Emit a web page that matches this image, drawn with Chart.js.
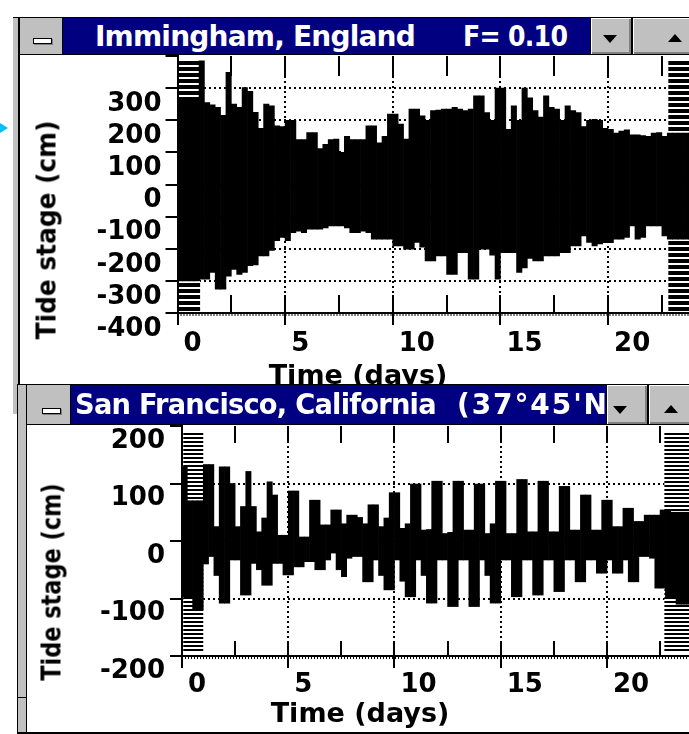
<!DOCTYPE html>
<html><head><meta charset="utf-8">
<script src="https://cdn.jsdelivr.net/npm/chart.js@4.4.1/dist/chart.umd.min.js"></script>
<style>
html,body{margin:0;padding:0;background:#fff;}
body{width:689px;height:734px;overflow:hidden;position:relative;}
.a{position:absolute;}
.k{background:#000;}
.g{background:#c0c0c0;}
.blue{background:#000080;overflow:hidden;}
.tt{position:absolute;color:#fff;font-family:'DejaVu Sans',sans-serif;font-weight:bold;font-size:28px;letter-spacing:-0.8px;white-space:nowrap;line-height:28px;transform-origin:0 50%;}
.btn{background:#c0c0c0;box-shadow:inset 1px 1px #fff,inset -2px -2px #808080;}
.sys{background:#fff;border:1px solid #000;box-shadow:1px 1px #808080;box-sizing:border-box;}
.td{width:0;height:0;border-left:7px solid transparent;border-right:7px solid transparent;border-top:8px solid #000;}
.tu{width:0;height:0;border-left:7px solid transparent;border-right:7px solid transparent;border-bottom:8px solid #000;}
.axt{position:absolute;font-family:'DejaVu Sans',sans-serif;font-weight:bold;font-size:27px;line-height:27px;color:#000;white-space:nowrap;}
</style></head>
<body>
<!-- cyan pointer -->
<div class="a" style="left:0;top:123px;width:0;height:0;border-left:8px solid #00c0ff;border-top:5px solid transparent;border-bottom:5px solid transparent;"></div>

<!-- Window 1 -->
<div class="a g" style="left:13px;top:17px;width:5px;height:397px;"></div>
<div class="a k" style="left:18px;top:17px;width:2px;height:397px;"></div>
<div class="a k" style="left:13px;top:17px;width:676px;height:1px;"></div>
<div class="a g" style="left:20px;top:18px;width:42px;height:36px;"></div>
<div class="a sys" style="left:33px;top:38px;width:19px;height:6px;"></div>
<div class="a k" style="left:62px;top:18px;width:1px;height:36px;"></div>
<div class="a blue" style="left:63px;top:18px;width:527px;height:36px;">
  <span class="tt" style="left:32px;top:5px;">Immingham, England</span>
  <span class="tt" style="left:400px;top:5px;transform:scaleX(0.9);">F= 0.10</span>
</div>
<div class="a k" style="left:590px;top:18px;width:1px;height:36px;"></div>
<div class="a btn" style="left:591px;top:18px;width:40px;height:36px;"></div>
<div class="a td" style="left:603px;top:35px;"></div>
<div class="a k" style="left:631px;top:18px;width:2px;height:36px;"></div>
<div class="a btn" style="left:633px;top:18px;width:80px;height:36px;"></div>
<div class="a tu" style="left:668px;top:34px;"></div>
<div class="a k" style="left:20px;top:54px;width:669px;height:1px;"></div>
<canvas id="c1" class="a" width="669" height="329" style="left:20px;top:55px;"></canvas>
<div class="axt" style="left:46px;top:230px;transform:translate(-50%,-50%) rotate(-90deg) scaleX(0.92);">Tide stage (cm)</div>
<div class="axt" style="left:358px;top:361px;transform:translateX(-50%);">Time (days)</div>

<!-- Window 2 -->
<div style="position:absolute;left:0;top:0;width:689px;height:734px;z-index:2;pointer-events:none;">
<div class="a k" style="left:17px;top:384px;width:672px;height:1px;"></div>
<div class="a k" style="left:17px;top:384px;width:1px;height:350px;"></div>
<div class="a g" style="left:18px;top:385px;width:8px;height:347px;"></div>
<div class="a k" style="left:26px;top:385px;width:1px;height:347px;"></div>
<div class="a k" style="left:17px;top:697px;width:10px;height:1px;"></div>
<div class="a g" style="left:27px;top:385px;width:43px;height:39px;"></div>
<div class="a sys" style="left:42px;top:408px;width:19px;height:6px;"></div>
<div class="a k" style="left:70px;top:385px;width:1px;height:39px;"></div>
<div class="a blue" style="left:71px;top:385px;width:535px;height:39px;">
  <span class="tt" style="left:4px;top:6px;transform:scaleX(0.975);">San Francisco, California</span>
  <span class="tt" style="left:386px;top:6px;letter-spacing:1.9px;">(37°45'N)</span>
</div>
<div class="a k" style="left:606px;top:385px;width:1px;height:39px;"></div>
<div class="a btn" style="left:607px;top:385px;width:40px;height:39px;"></div>
<div class="a td" style="left:613px;top:406px;"></div>
<div class="a k" style="left:647px;top:385px;width:2px;height:39px;"></div>
<div class="a btn" style="left:649px;top:385px;width:60px;height:39px;"></div>
<div class="a tu" style="left:664px;top:405px;"></div>
<div class="a k" style="left:27px;top:424px;width:662px;height:1px;"></div>
<div class="a" style="left:27px;top:425px;width:662px;height:307px;background:#fff;"></div>
<div class="a k" style="left:17px;top:732px;width:672px;height:2px;"></div>
</div>
<canvas id="c2" class="a" width="662" height="307" style="left:27px;top:425px;z-index:3;"></canvas>
<div class="axt" style="z-index:3;left:51px;top:582px;transform:translate(-50%,-50%) rotate(-90deg) scaleX(0.83);">Tide stage (cm)</div>
<div class="axt" style="z-index:3;left:360px;top:699px;transform:translateX(-50%);">Time (days)</div>

<script>
// ---- time bins (centre of each quarter-day bin, days) ----
const DAYS = Array.from({length: 96}, (_, i) => 0.125 + 0.25 * i);

// ---- Immingham, England: highest / lowest stage within each bin (cm) ----
const IMMINGHAM_HIGH = [
  265,265,265,265,385,255,248,240,215,349,
  250,240,302,290,225,175,250,245,183,180,
  200,200,140,140,162,162,112,125,140,141,
  100,150,140,140,140,183,183,130,150,219,
  219,188,141,235,235,214,200,230,232,235,
  235,240,235,230,235,276,276,224,200,300,
  300,172,245,200,300,270,230,210,276,240,
  235,200,245,230,224,180,200,203,200,175,
  172,160,166,170,155,155,152,150,160,162,
  150,160,160,160,160,160];
const IMMINGHAM_LOW = [
  -300,-300,-300,-300,-295,-295,-274,-326,-326,-285,
  -264,-280,-274,-253,-250,-222,-222,-205,-175,-165,
  -175,-150,-145,-150,-139,-139,-139,-135,-129,-129,
  -129,-135,-150,-150,-145,-150,-170,-170,-170,-170,
  -191,-191,-201,-201,-180,-195,-238,-238,-222,-222,
  -280,-280,-212,-212,-295,-295,-201,-201,-220,-295,
  -212,-212,-212,-274,-260,-230,-238,-238,-222,-222,
  -222,-212,-212,-191,-191,-160,-180,-191,-185,-181,
  -181,-170,-170,-165,-129,-170,-165,-129,-129,-129,
  -160,-170,-170,-170,-170,-170];

// ---- San Francisco, California ----
const SF_HIGH = [
  129,70,70,70,133,133,25,129,129,100,
  25,60,121,60,16,40,103,80,10,10,
  87,87,7,7,71,71,28,28,54,54,
  30,45,45,41,30,63,63,25,40,84,
  84,22,30,99,99,19,20,104,104,13,
  15,104,104,19,19,99,99,13,30,104,
  104,13,13,107,107,16,16,104,104,16,
  16,95,95,19,19,80,80,19,19,71,
  71,25,25,57,57,34,34,45,45,45,
  54,54,50,50,50,50];
const SF_LOW = [
  -97,-100,-120,-120,-40,-27,-60,-108,-108,-33,
  -33,-94,-94,-39,-50,-77,-77,-39,-39,-59,
  -59,-45,-45,-36,-36,-50,-50,-33,-21,-50,
  -62,-30,-27,-27,-71,-71,-33,-60,-85,-85,
  -33,-70,-97,-97,-33,-60,-108,-108,-33,-33,
  -114,-114,-33,-33,-114,-114,-33,-60,-108,-108,
  -33,-33,-97,-97,-33,-33,-94,-94,-33,-33,
  -88,-88,-33,-33,-71,-71,-33,-33,-56,-56,
  -33,-56,-56,-33,-71,-71,-27,-27,-30,-82,
  -82,-97,-97,-110,-110,-110];

// ---- tick labels ----
const X_TICK_LABELS = [0, 5, 10, 15, 20];
const IMMINGHAM_Y_LABELS = [300, 200, 100, 0, -100, -200, -300, -400];
const SF_Y_LABELS = [200, 100, 0, -100, -200];

// ---- dense-trace (hatched) edge zones: [start day, end day] and stage span ----
const IMMINGHAM_HATCH_DAYS = [[0, 1.05], [22.8, 24]];
const IMMINGHAM_HATCH_RANGE = [-395, 388];
const SF_HATCH_DAYS = [[0.06, 1.0], [22.7, 24]];
const SF_HATCH_RANGE = [-194, 190];

function linePattern(on, off) {
  const c = document.createElement('canvas');
  c.width = 8; c.height = on + off;
  const g = c.getContext('2d');
  g.fillStyle = '#fff'; g.fillRect(0, 0, 8, on + off);
  g.fillStyle = '#000'; g.fillRect(0, 0, 8, on);
  return g.createPattern(c, 'repeat');
}

function makeDecor(cfg) {
  return {
    id: 'decor',
    beforeDatasetsDraw(chart) {
      const {ctx, chartArea: a, scales: {x, y}} = chart;
      ctx.save();
      ctx.beginPath(); ctx.rect(a.left, a.top, a.right - a.left, a.bottom - a.top); ctx.clip();
      ctx.fillStyle = cfg.pattern;
      cfg.hatchDays.forEach(([d0, d1]) => {
        const x0 = x.getPixelForValue(d0), x1 = x.getPixelForValue(d1);
        const y0 = y.getPixelForValue(cfg.hatchRange[1]), y1 = y.getPixelForValue(cfg.hatchRange[0]);
        ctx.fillRect(x0, y0, x1 - x0, y1 - y0);
      });
      ctx.restore();
    },
    afterDatasetsDraw(chart) {
      const {ctx, chartArea: a, scales: {x}} = chart;
      ctx.save();
      ctx.strokeStyle = '#000'; ctx.lineWidth = 2;
      x.ticks.forEach(t => {
        if (t.value <= 0) return;
        const px = Math.round(x.getPixelForValue(t.value));
        ctx.beginPath();
        ctx.moveTo(px, a.top); ctx.lineTo(px, a.top + cfg.innerTop);
        ctx.moveTo(px, a.bottom - cfg.innerBottom); ctx.lineTo(px, a.bottom);
        ctx.stroke();
      });
      ctx.setLineDash([1, 2]);
      ctx.beginPath(); ctx.moveTo(a.left, a.bottom + 2); ctx.lineTo(a.right, a.bottom + 2); ctx.stroke();
      ctx.restore();
    }
  };
}

const TICK_FONT = {family: "'DejaVu Sans', sans-serif", size: 26, weight: 'bold'};
const CLEAR = 'rgba(0,0,0,0)';

function makeChart(id, cfg) {
  const data = DAYS.map((d, i) => ({x: d, y: [cfg.low[i], cfg.high[i]]}));
  return new Chart(document.getElementById(id), {
    type: 'bar',
    data: {datasets: [{label: cfg.label, data, backgroundColor: '#000', borderWidth: 0,
      barPercentage: 1, categoryPercentage: 1, grouped: false}]},
    options: {
      responsive: false, animation: false,
      layout: {padding: {top: 1, left: 0, right: 0, bottom: 0}},
      plugins: {legend: {display: false}, tooltip: {enabled: false}},
      scales: {
        x: {
          type: 'linear', min: 0, max: cfg.xMax, offset: false,
          afterFit: s => { s.height = cfg.xAxisH; s.paddingLeft = 0; s.paddingRight = 0; },
          ticks: {stepSize: 2.5, autoSkip: false, includeBounds: false, maxRotation: 0, minRotation: 0,
            align: 'start', labelOffset: 6, padding: cfg.xPad, color: '#000', font: TICK_FONT,
            callback: v => X_TICK_LABELS.includes(v) ? String(v) : ''},
          grid: {offset: false, lineWidth: 2, tickLength: 12, tickWidth: 2,
            color: c => (c.tick && c.tick.value > 0 && c.tick.value % 5 === 0) ? '#000' : CLEAR,
            tickColor: c => (c.tick && c.tick.value % 5 === 0) ? '#000' : CLEAR},
          border: {display: true, color: '#000', width: 2, dash: [2, 3], z: 1}
        },
        y: {
          type: 'linear', min: cfg.yMin, max: cfg.yMax,
          afterFit: s => { s.width = cfg.yAxisW; s.paddingTop = 0; s.paddingBottom = 0; },
          ticks: {stepSize: 100, autoSkip: false, labelOffset: cfg.yLabOff, padding: cfg.yPad,
            color: '#000', font: TICK_FONT,
            callback: v => cfg.yLabels.includes(v) ? String(v) : ''},
          grid: {lineWidth: 2, tickLength: 12, tickWidth: 2, tickColor: '#000',
            color: c => (c.tick && c.tick.value > cfg.yMin && c.tick.value < cfg.yMax) ? '#000' : CLEAR},
          border: {display: true, color: '#000', width: 2, dash: [2, 3], z: 1}
        }
      }
    },
    plugins: [makeDecor(cfg)]
  });
}

makeChart('c1', {
  label: 'Immingham, England', high: IMMINGHAM_HIGH, low: IMMINGHAM_LOW,
  xMax: 23.76, yMin: -400, yMax: 400, yLabels: IMMINGHAM_Y_LABELS,
  xAxisH: 71, yAxisW: 157.5, xPad: 4, yPad: 4, yLabOff: 16,
  hatchDays: IMMINGHAM_HATCH_DAYS, hatchRange: IMMINGHAM_HATCH_RANGE, pattern: linePattern(4, 2),
  innerTop: 20, innerBottom: 18
});
makeChart('c2', {
  label: 'San Francisco, California', high: SF_HIGH, low: SF_LOW,
  xMax: 23.86, yMin: -200, yMax: 200, yLabels: SF_Y_LABELS,
  xAxisH: 76, yAxisW: 155, xPad: 2, yPad: 5, yLabOff: 15,
  hatchDays: SF_HATCH_DAYS, hatchRange: SF_HATCH_RANGE, pattern: linePattern(2, 2),
  innerTop: 17, innerBottom: 15
});
</script>
</body></html>
